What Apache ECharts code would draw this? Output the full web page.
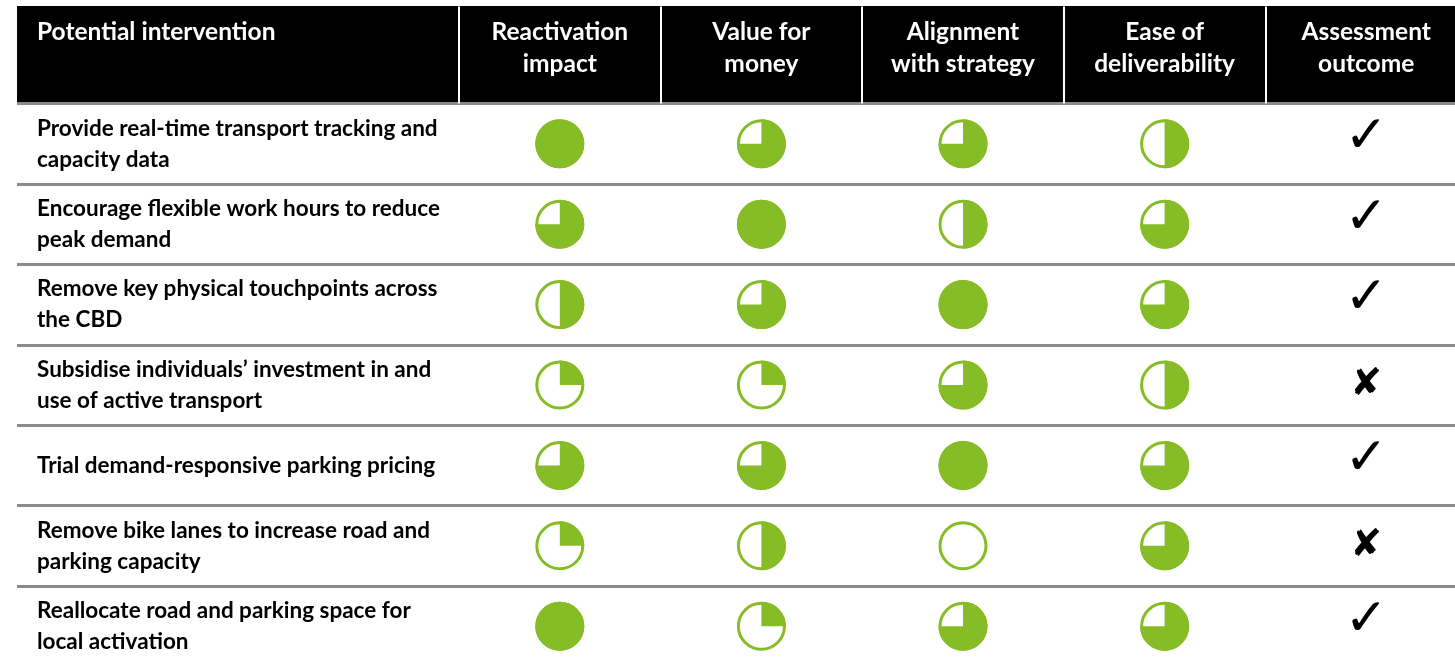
<!DOCTYPE html>
<html>
<head>
<meta charset="utf-8">
<script src="https://cdn.jsdelivr.net/npm/echarts@6/dist/echarts.min.js"></script>
<style>
html,body{margin:0;padding:0;background:#fff;}
#chart{width:1455px;height:659px;}
</style>
</head>
<body>
<div id="chart"></div>
<script>
// ---- data ----
const firstHeader = 'Potential intervention';
const criteria = ['Reactivation\nimpact', 'Value for\nmoney', 'Alignment\nwith strategy', 'Ease of\ndeliverability', 'Assessment\noutcome'];
const interventions = [
  'Provide real-time transport tracking and\ncapacity data',
  'Encourage flexible work hours to reduce\npeak demand',
  'Remove key physical touchpoints across\nthe CBD',
  'Subsidise individuals\u2019 investment in and\nuse of active transport',
  'Trial demand-responsive parking pricing',
  'Remove bike lanes to increase road and\nparking capacity',
  'Reallocate road and parking space for\nlocal activation'
];
// Harvey ball scores: 0 = empty, 1 = quarter, 2 = half, 3 = three-quarters, 4 = full
const reactivationImpact = [4, 3, 2, 1, 3, 1, 4];
const valueForMoney      = [3, 4, 3, 1, 3, 2, 1];
const alignmentStrategy  = [3, 2, 4, 3, 4, 0, 3];
const easeDeliverability = [2, 3, 3, 2, 3, 3, 3];
const assessmentOutcome  = ['\u2713', '\u2713', '\u2713', '\u2718', '\u2713', '\u2718', '\u2713'];

// ---- build ----
const GREEN = '#86bc25';
const LINE = '#8c8c8c';
const scoreCols = [reactivationImpact, valueForMoney, alignmentStrategy, easeDeliverability];
const ballData = [];
scoreCols.forEach((col, ci) => col.forEach((v, ri) => ballData.push([ci, ri, v])));
const outcomeData = assessmentOutcome.map((v, ri) => [4, ri]);

const GT = 103.6, GB = -7.4;
const chart = echarts.init(document.getElementById('chart'), null, {renderer: 'canvas'});
chart.setOption({
  backgroundColor: '#fff',
  animation: false,
  graphic: [
    {type: 'rect', z: -1, shape: {x: 17, y: 6, width: 1438, height: GT - 6}, style: {fill: '#000'}},
    {type: 'text', z: 5, x: 37, y: 32, style: {text: firstHeader, fill: '#fff', font: 'bold 24.5px Lato', verticalAlign: 'middle', align: 'left'}}
  ],
  grid: [
    {left: 17, right: 996, top: GT, bottom: GB, containLabel: false, outerBoundsMode: 'none'},
    {left: 459, right: -12, top: GT, bottom: GB, containLabel: false, outerBoundsMode: 'none'}
  ],
  xAxis: [
    {gridIndex: 0, type: 'category', data: [''], show: false},
    {gridIndex: 1, type: 'category', data: criteria, position: 'top',
     axisLine: {show: true, lineStyle: {color: LINE, width: 3}},
     axisTick: {show: true, inside: false, length: GT - 6.5, lineStyle: {color: '#fff', width: 2}},
     axisLabel: {show: true, interval: 0, margin: 24, color: '#fff', fontFamily: 'Lato', fontWeight: 'bold', fontSize: 24.5, lineHeight: 32, align: 'center'},
     splitLine: {show: false}}
  ],
  yAxis: [
    {gridIndex: 0, type: 'category', data: interventions, inverse: true,
     axisLine: {show: false}, axisTick: {show: false},
     axisLabel: {show: true, inside: true, margin: 20, align: 'left', interval: 0, color: '#000', fontFamily: 'Lato', fontWeight: 'bold', fontSize: 22.5, lineHeight: 31},
     splitLine: {show: true, interval: 0, lineStyle: {color: LINE, width: 3}}},
    {gridIndex: 1, type: 'category', data: interventions, inverse: true,
     axisLine: {show: false}, axisTick: {show: false}, axisLabel: {show: false},
     splitLine: {show: true, interval: 0, lineStyle: {color: LINE, width: 3}}}
  ],
  series: [
    {
      type: 'custom', xAxisIndex: 1, yAxisIndex: 1, data: ballData, z: 3,
      renderItem: function (params, api) {
        const c = api.coord([api.value(0), api.value(1)]);
        const s = api.value(2);
        const r = 24.5;
        const children = [{type: 'circle', shape: {cx: c[0], cy: c[1], r: r - 1.5}, style: {fill: '#fff', stroke: GREEN, lineWidth: 3}}];
        if (s >= 4) {
          children.push({type: 'circle', shape: {cx: c[0], cy: c[1], r: r}, style: {fill: GREEN}});
        } else if (s > 0) {
          children.push({type: 'sector', shape: {cx: c[0], cy: c[1], r0: 0, r: r, startAngle: -Math.PI / 2, endAngle: -Math.PI / 2 + s * Math.PI / 2, clockwise: true}, style: {fill: GREEN}});
        }
        return {type: 'group', children: children};
      }
    },
    {
      type: 'custom', xAxisIndex: 1, yAxisIndex: 1, data: outcomeData, z: 3,
      renderItem: function (params, api) {
        const c = api.coord([api.value(0), api.value(1)]);
        const t = assessmentOutcome[params.dataIndex];
        const isCheck = t === '\u2713';
        return {type: 'text', x: c[0], y: c[1] + (isCheck ? -5 : 0), style: {text: t, fill: '#000', font: (isCheck ? '52px' : '38px') + ' "DejaVu Sans"', align: 'center', verticalAlign: 'middle'}};
      }
    }
  ]
});
</script>
</body>
</html>
